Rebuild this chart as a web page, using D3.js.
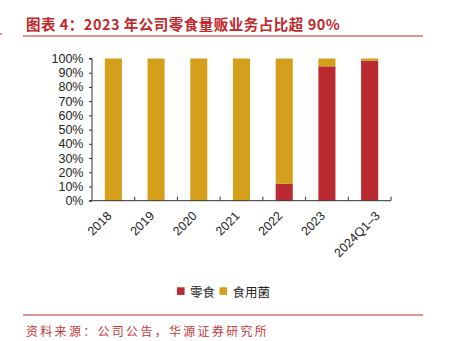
<!DOCTYPE html>
<html><head><meta charset="utf-8">
<script src="https://cdn.jsdelivr.net/npm/d3@7/dist/d3.min.js"></script>
<style>body{margin:0;background:#fff}</style>
</head><body>
<svg id="c" width="449" height="341"></svg>
<script>
const categories = ["2018","2019","2020","2021","2022","2023","2024Q1-3"];
const snack = [0, 0, 0, 0, 12, 94.5, 98.5];
const mushroom = [100, 100, 100, 100, 88, 5.5, 1.5];
const yTicks = [0,10,20,30,40,50,60,70,80,90,100];
const seriesNames = ["零食","食用菌"];
const colors = ["#B92B30","#D4A01C"];

const svg = d3.select("#c");
const font = "'Liberation Sans', Arial, sans-serif";
const cjk = "'Noto Sans CJK SC', sans-serif";
const red = "#C0282D";

// title
svg.append("text").attr("x",26).attr("y",30).attr("font-family",cjk).attr("font-weight","bold")
  .attr("font-size",14.5).attr("letter-spacing",0.5).attr("fill",red).text("图表 4：2023 年公司零食量贩业务占比超 90%");
svg.append("line").attr("x1",23).attr("x2",423).attr("y1",36).attr("y2",36).attr("stroke",red).attr("stroke-width",1.2);
svg.append("line").attr("x1",0).attr("x2",2).attr("y1",34).attr("y2",34).attr("stroke",red).attr("stroke-width",1);

const x = d3.scaleBand().domain(categories).range([92,391]).paddingInner(0.6).paddingOuter(0.3);
const y = d3.scaleLinear().domain([0,100]).range([200.7,58.5]);

const data = categories.map((c,i)=>({cat:c, 零食:snack[i], 食用菌:mushroom[i]}));
const stacked = d3.stack().keys(seriesNames)(data);

svg.append("g").selectAll("g").data(stacked).join("g").attr("fill",(d,i)=>colors[i])
  .selectAll("rect").data(d=>d).join("rect")
  .attr("x",d=>x(d.data.cat)).attr("width",x.bandwidth())
  .attr("y",d=>y(d[1])).attr("height",d=>y(d[0])-y(d[1]));

// y axis
const ya = svg.append("g").attr("transform","translate(92,0)")
  .call(d3.axisLeft(y).tickValues(yTicks).tickFormat(d=>d+"%").tickSize(3));
ya.select(".domain").attr("stroke","#333").attr("d","M-3,58.5H0V200.7H-3");
ya.selectAll(".tick line").attr("stroke","#333");
ya.selectAll("text").attr("font-family",font).attr("font-size",12.5).attr("fill","#222").attr("x",-8.5);

// x axis
const xa = svg.append("g").attr("transform","translate(0,200.7)");
xa.append("line").attr("x1",92).attr("x2",391).attr("stroke","#333").attr("stroke-width",1);
xa.selectAll(".tk").data(d3.range(1,categories.length+1)).join("line")
  .attr("x1",i=>92+i*(299/categories.length)).attr("x2",i=>92+i*(299/categories.length))
  .attr("y1",0).attr("y2",-4).attr("stroke","#333");
xa.selectAll(".lbl").data(categories).join("text")
  .attr("transform",d=>`translate(${x(d)+x.bandwidth()/2-1+Math.max(0,d.length-4)*3},${16}) rotate(-45)`)
  .attr("text-anchor","end").attr("font-family",font).attr("font-size",12.5).attr("fill","#222")
  .text(d=>d.replace("-","–"));

// legend
const lg = svg.append("g");
const lx = [177, 219.5];
seriesNames.forEach((n,i)=>{
  lg.append("rect").attr("x",lx[i]).attr("y",287.3).attr("width",7.6).attr("height",7.6).attr("fill",colors[i]);
  lg.append("text").attr("x",lx[i]+13).attr("y",296.5).attr("font-family",cjk).attr("font-size",12.5).attr("fill","#222").text(n);
});

// footer
svg.append("line").attr("x1",23).attr("x2",423).attr("y1",315).attr("y2",315).attr("stroke",red).attr("stroke-width",1.2);
svg.append("text").attr("x",26).attr("y",336).attr("font-family",cjk).attr("font-size",12).attr("fill","#C2393D")
  .attr("letter-spacing",2.3).text("资料来源：公司公告，华源证券研究所");
</script>
</body></html>
